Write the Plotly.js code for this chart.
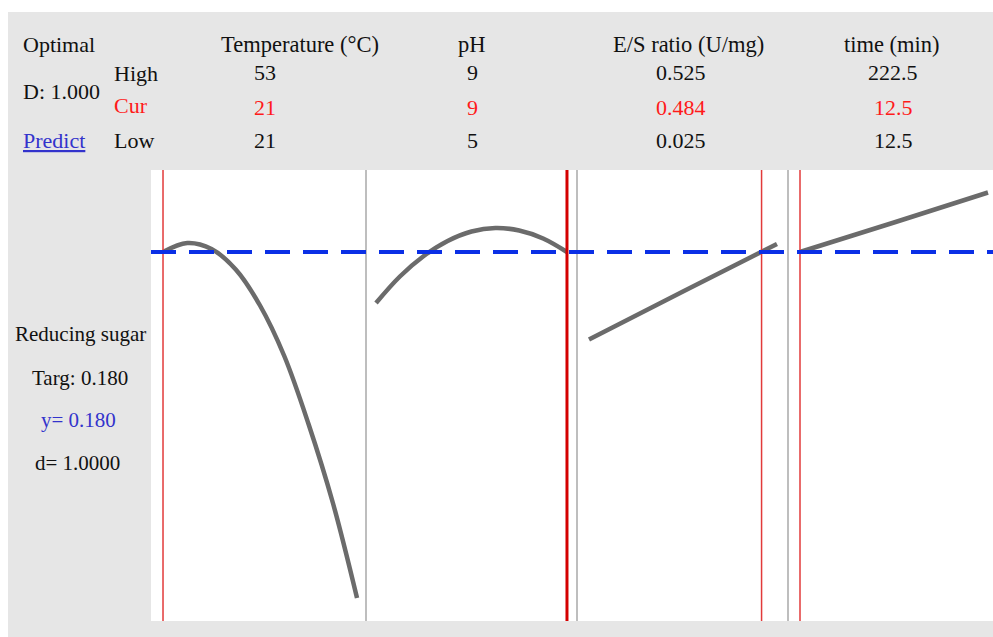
<!DOCTYPE html>
<html>
<head>
<meta charset="utf-8">
<script src="https://cdn.plot.ly/plotly-3.0.1.min.js"></script>
<style>html,body{margin:0;padding:0;background:#fff;}#chart{width:993px;height:637px;}</style>
</head>
<body>
<div id="chart"></div>
<script>
// ---- data ----
const factorNames = ["Temperature (°C)", "pH", "E/S ratio (U/mg)", "time (min)"];
const highLabels = ["53", "9", "0.525", "222.5"];
const curLabels = ["21", "9", "0.484", "12.5"];
const lowLabels = ["21", "5", "0.025", "12.5"];
const curValues = [21, 9, 0.484, 12.5];
const lowValues = [21, 5, 0.025, 12.5];
const highValues = [53, 9, 0.525, 222.5];

const tempX = [21, 25, 29, 33, 37, 41, 45, 49, 53];
const tempY = [0.1800, 0.1818, 0.1806, 0.1765, 0.1693, 0.1592, 0.1456, 0.1299, 0.1108];

const phX = [5, 5.5, 6, 6.5, 7, 7.5, 8, 8.5, 9];
const phY = [0.1698, 0.1751, 0.1792, 0.1822, 0.1841, 0.1848, 0.1843, 0.1827, 0.1800];

const esX = [0.025, 0.275, 0.525];
const esY = [0.1625, 0.1721, 0.1816];

const timeX = [12.5, 117.5, 222.5];
const timeY = [0.1800, 0.1859, 0.1919];

const responseName = "Reducing sugar";
const target = 0.180;
const predicted = 0.180;
const desirability = 1.0000;
const compositeD = 1.000;

// ---- layout helpers (pixel -> paper) ----
const W = 993, H = 637;
const px = x => x / W;
const py = y => (H - y) / H;

const panelEdges = [151, 366, 577, 788, 993];
const plotTop = 170, plotBottom = 621;
// x-axis ranges (padding around low/high as in reference)
const ranges = [[19.02, 54.48], [4.79, 9.21], [-0.0069, 0.5543], [-0.9, 228.1]];

const curveGray = "#6b6b6b";
const xs = [tempX, phX, esX, timeX];
const ys = [tempY, phY, esY, timeY];
const axNames = ["x", "x2", "x3", "x4"];

const traces = xs.map((xv, i) => ({
  x: xv, y: ys[i], xaxis: axNames[i], yaxis: "y",
  type: "scatter", mode: "lines",
  line: {color: curveGray, width: 4.5, shape: "spline"},
  hoverinfo: "skip", showlegend: false
}));

const layout = {
  width: W, height: H,
  margin: {l: 0, r: 0, t: 0, b: 0, pad: 0},
  paper_bgcolor: "#e6e6e6",
  plot_bgcolor: "#ffffff",
  showlegend: false,
  yaxis: {
    domain: [py(plotBottom), py(plotTop)],
    range: [0.1062, 0.1964],
    showticklabels: false, ticks: "", showgrid: false, zeroline: false, showline: false,
    fixedrange: true
  },
  shapes: [],
  annotations: []
};

for (let i = 0; i < 4; i++) {
  const key = i === 0 ? "xaxis" : "xaxis" + (i + 1);
  layout[key] = {
    domain: [px(panelEdges[i]), Math.min(1, px(panelEdges[i + 1]))],
    range: ranges[i], anchor: "y",
    showticklabels: false, ticks: "", showgrid: false, zeroline: false, showline: false,
    fixedrange: true
  };
}

// white margins of the picture (top and left strips)
layout.shapes.push({type: "rect", xref: "paper", yref: "paper", x0: 0, x1: 1, y0: py(12), y1: 1,
  fillcolor: "#ffffff", line: {width: 0}, layer: "below"});
layout.shapes.push({type: "rect", xref: "paper", yref: "paper", x0: 0, x1: px(8), y0: 0, y1: 1,
  fillcolor: "#ffffff", line: {width: 0}, layer: "below"});

// gray panel separators
[366, 577, 788].forEach(x => {
  layout.shapes.push({type: "line", xref: "paper", yref: "paper", x0: px(x), x1: px(x),
    y0: py(plotBottom), y1: py(plotTop), line: {color: "#a8a8a8", width: 1.5}});
});

// red current-setting lines
curValues.forEach((v, i) => {
  const atEdge = v === highValues[i];
  layout.shapes.push({type: "line", xref: axNames[i], yref: "paper", x0: v, x1: v,
    y0: py(plotBottom), y1: py(plotTop),
    line: {color: atEdge ? "#d40000" : "#e23a3a", width: atEdge ? 3 : 1.5}});
});

// blue dashed target line
layout.shapes.push({type: "line", xref: "paper", yref: "y", x0: px(151), x1: 1, y0: target, y1: target,
  line: {color: "#0a2fe6", width: 4, dash: "25px,13px"}});

const FONT = "Liberation Serif, Times New Roman, serif";
const FS = 22;
const RED = "#ff1a1a", BLUE = "#3333cc", BLACK = "#111111";
function txt(text, x, y, color, anchor, size) {
  layout.annotations.push({text: text, xref: "paper", yref: "paper", x: px(x), y: py(y),
    xanchor: anchor || "center", yanchor: "middle", showarrow: false,
    font: {family: FONT, size: size || FS, color: color || BLACK}});
}

txt("Optimal", 21, 44, BLACK, "left");
txt("D: " + compositeD.toFixed(3), 21, 91, BLACK, "left");
txt("<u>Predict</u>", 21, 140, BLUE, "left");
txt("High", 112, 74, BLACK, "left");
txt("Cur", 112, 106, RED, "left");
txt("Low", 112, 140, BLACK, "left");

const headerX = [300, 472, 688, 892];
const valueX = [265, 472, 681, 893];
factorNames.forEach((n, i) => {
  txt(n, headerX[i], 44, BLACK, "center", 22.5);
  txt(highLabels[i], valueX[i], 73);
  txt(curLabels[i], valueX[i], 107, RED);
  txt(lowLabels[i], valueX[i], 140);
});

txt(responseName, 80, 334, BLACK, "center", 21);
txt("Targ: " + target.toFixed(3), 80, 378, BLACK, "center", 21);
txt("y= " + predicted.toFixed(3), 78, 420, BLUE, "center", 21);
txt("d= " + desirability.toFixed(4), 77, 463, BLACK, "center", 21);

Plotly.newPlot("chart", traces, layout, {staticPlot: true, displayModeBar: false});
</script>
</body>
</html>
